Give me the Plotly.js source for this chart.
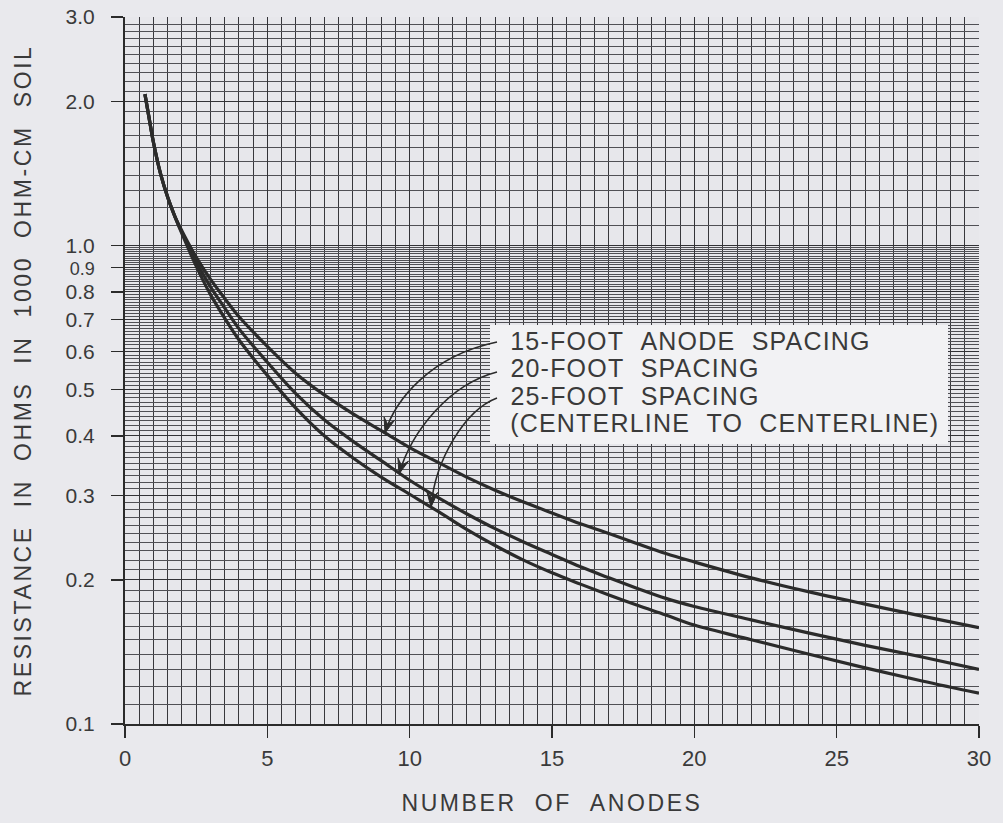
<!DOCTYPE html>
<html><head><meta charset="utf-8">
<script src="https://cdn.plot.ly/plotly-3.0.1.min.js"></script>
<style>
html,body{margin:0;padding:0;background:#e9e9ed;}
#chart{width:1003px;height:823px;}
.js-plotly-plot .xtitle, .js-plotly-plot .ytitle {letter-spacing:2.6px;}
.js-plotly-plot .annotation-text {letter-spacing:1.2px;}
</style></head><body><div id="chart"></div><script>
// Number of anodes
const anodes = [0.7,0.85,1,1.25,1.5,1.75,2,2.5,3,3.5,4,5,6,7,8,9,10,11,12,13,14,15,16,17,18,19,20,22,24,26,28,30];
// Resistance (ohms in 1000 ohm-cm soil)
const spacing15 = [2.07,1.84,1.64,1.41,1.26,1.15,1.072,0.945,0.85,0.775,0.71,0.615,0.54,0.487,0.445,0.41,0.378,0.352,0.328,0.308,0.291,0.276,0.262,0.25,0.238,0.227,0.218,0.202,0.189,0.178,0.168,0.159];
const spacing20 = [2.07,1.84,1.64,1.41,1.26,1.15,1.065,0.925,0.82,0.74,0.67,0.57,0.49,0.432,0.39,0.355,0.323,0.297,0.275,0.256,0.24,0.226,0.213,0.202,0.192,0.183,0.176,0.165,0.155,0.146,0.138,0.130];
const spacing25 = [2.07,1.84,1.64,1.41,1.26,1.15,1.058,0.905,0.79,0.705,0.635,0.535,0.457,0.40,0.36,0.328,0.302,0.278,0.255,0.236,0.22,0.207,0.196,0.186,0.177,0.169,0.161,0.150,0.140,0.131,0.123,0.116];

const yTickVals = [0.1,0.2,0.3,0.4,0.5,0.6,0.7,0.8,0.9,1,2,3];
const yTickText = ['0.1','0.2','0.3','0.4','0.5','0.6','0.7','0.8','<span style="font-size:18px">0.9</span>','1.0','2.0','3.0'];
const xTickVals = [0,5,10,15,20,25,30];
const xTickText = ['0','5','10','15','20','25','30'];
const legendLines = ['15-FOOT\u00A0\u00A0ANODE\u00A0\u00A0SPACING','20-FOOT\u00A0\u00A0SPACING','25-FOOT\u00A0\u00A0SPACING','(CENTERLINE\u00A0\u00A0TO\u00A0\u00A0CENTERLINE)'];

// minor horizontal grid values
const yMinor = [];
for (let i = 11; i < 100; i++) { if (i % 10 !== 0) yMinor.push(i/100); }
for (let i = 11; i < 30; i++) { if (i % 10 !== 0) yMinor.push(i/10); }

const FONT = 'Liberation Sans, Arial, sans-serif';
const INK = '#2b2b2b';
const TXT = '#3a3a3a';

const traces = [spacing15, spacing20, spacing25].map((s, i) => ({
  x: anodes, y: s, type: 'scatter', mode: 'lines',
  name: ['15-foot','20-foot','25-foot'][i],
  line: {color: INK, width: 3.2, shape: 'spline', smoothing: 1},
  hoverinfo: 'x+y', showlegend: false
}));

// plot-area pixel helpers (for decorations only)
const L = 125, R = 979, T = 17, B = 724;
const px = (X) => (X - L) / (R - L);
const py = (Y) => (B - Y) / (B - T);
const P = (X, Y) => px(X).toFixed(4) + ',' + py(Y).toFixed(4);

const arrows = [
  {s:[497,342], c1:[430,356], c2:[395,400], t:[385,433]},
  {s:[497,372], c1:[450,384], c2:[412,430], t:[399,474]},
  {s:[497,398], c1:[465,410], c2:[435,460], t:[431,507]}
];
const shapes = [
  {type:'rect', xref:'paper', yref:'paper', x0:px(490), x1:px(948), y0:py(444), y1:py(325),
   fillcolor:'#f2f2f4', line:{width:0}, layer:'above'}
];
arrows.forEach(a => {
  shapes.push({type:'path', xref:'paper', yref:'paper', layer:'above',
    path:'M' + P(a.s[0],a.s[1]) + ' C' + P(a.c1[0],a.c1[1]) + ' ' + P(a.c2[0],a.c2[1]) + ' ' + P(a.t[0],a.t[1]),
    line:{color:INK, width:1.6}});
  const dx = a.t[0]-a.c2[0], dy = a.t[1]-a.c2[1];
  const len = Math.hypot(dx,dy), ux = dx/len, uy = dy/len;
  const bx = a.t[0]-ux*15, by = a.t[1]-uy*15;
  const nx = -uy, ny = ux;
  const l1 = [bx+nx*5.5, by+ny*5.5], l2 = [bx-nx*5.5, by-ny*5.5], m = [a.t[0]-ux*9, a.t[1]-uy*9];
  shapes.push({type:'path', xref:'paper', yref:'paper', layer:'above',
    path:'M' + P(a.t[0],a.t[1]) + ' L' + P(l1[0],l1[1]) + ' L' + P(m[0],m[1]) + ' L' + P(l2[0],l2[1]) + ' Z',
    fillcolor:INK, line:{color:INK, width:1}});
});

const annY = [341, 368, 396, 423];
const annotations = legendLines.map((t, i) => ({
  xref:'paper', yref:'paper', x:px(508 + t.length*0.6), y:py(annY[i]), xanchor:'left', yanchor:'middle',
  text:t, showarrow:false, font:{family:FONT, size:25, color:TXT}
}));

const layout = {
  width:1003, height:823,
  paper_bgcolor:'#e9e9ed', plot_bgcolor:'#e7e7eb',
  margin:{l:L, r:1003-R, t:T, b:823-B},
  font:{family:FONT, color:TXT},
  xaxis:{
    range:[0,30], tickmode:'array', tickvals:xTickVals, ticktext:xTickText,
    ticks:'outside', ticklen:12, tickwidth:1.5, tickcolor:INK,
    tickfont:{size:22, family:FONT, color:TXT}, ticklabelstandoff:2,
    showgrid:true, gridcolor:'#333337', gridwidth:1,
    minor:{dtick:0.5, tick0:0, showgrid:true, gridcolor:'#38383c', gridwidth:1, ticks:''},
    showline:true, linecolor:INK, linewidth:2, zeroline:false,
    title:{text:'NUMBER\u00A0\u00A0OF\u00A0\u00A0ANODES', font:{size:23, family:FONT, color:TXT}, standoff:24}
  },
  yaxis:{
    type:'log', range:[-1, Math.log10(3)], tickmode:'array', tickvals:yTickVals, ticktext:yTickText,
    ticks:'outside', ticklen:12, tickwidth:1.5, tickcolor:INK,
    tickfont:{size:21, family:FONT, color:TXT}, ticklabelstandoff:12,
    showgrid:true, gridcolor:'#333337', gridwidth:1,
    minor:{tickvals:yMinor, showgrid:true, gridcolor:'#505055', gridwidth:1, ticks:''},
    showline:true, linecolor:INK, linewidth:2, zeroline:false,
    title:{text:'RESISTANCE\u00A0\u00A0IN\u00A0\u00A0OHMS\u00A0\u00A0IN\u00A0\u00A01000\u00A0\u00A0OHM-CM\u00A0\u00A0SOIL', font:{size:23, family:FONT, color:TXT}, standoff:28}
  },
  shapes:shapes, annotations:annotations, showlegend:false
};

Plotly.newPlot('chart', traces, layout, {displayModeBar:false, staticPlot:true});
</script></body></html>
